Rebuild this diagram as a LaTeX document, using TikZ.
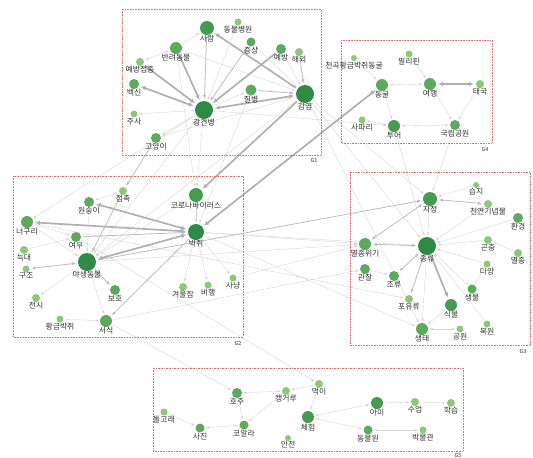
\documentclass[tikz,border=0pt]{standalone}
\usepackage{fontspec}
\setmainfont{Noto Sans CJK KR}
\usetikzlibrary{arrows.meta,backgrounds}
\definecolor{gdark}{RGB}{46,138,68}
\definecolor{gmd}{RGB}{70,155,80}
\definecolor{gmid}{RGB}{92,170,92}
\definecolor{glight}{RGB}{140,200,120}
\definecolor{boxred}{RGB}{225,110,110}
\definecolor{txt}{RGB}{50,50,50}
\tikzset{
  gdot/.style={circle,inner sep=0pt,outer sep=0pt,draw=none},
  lbl/.style={font=\fontsize{7.8}{8}\selectfont,text=txt,inner sep=0.3pt},
  glbl/.style={font=\fontsize{5.5}{6}\selectfont,text=txt,inner sep=0pt},
  boxst/.style={draw=boxred,densely dotted,line width=0.6pt},
  ethin/.style={draw=gray!36,line width=0.35pt,shorten >=1.5pt,shorten <=1.5pt,-{Latex[length=3pt,width=2.2pt]}},
  ethinb/.style={ethin,{Latex[length=3pt,width=2.2pt]}-{Latex[length=3pt,width=2.2pt]}},
  emed/.style={draw=gray!52,line width=0.8pt,shorten >=2pt,shorten <=2pt,-{Latex[length=4pt,width=3.4pt]}},
  emedb/.style={emed,{Latex[length=4pt,width=3.4pt]}-{Latex[length=4pt,width=3.4pt]}},
  ethick/.style={draw=gray!62,line width=1.7pt,shorten >=2pt,shorten <=2pt,-{Latex[length=5pt,width=4.6pt]}},
  ethickb/.style={ethick,{Latex[length=5pt,width=4.6pt]}-{Latex[length=5pt,width=4.6pt]}},
}
\newcommand\gn[6]{\node[gdot,minimum size=#4*2pt,fill=#5,label={[lbl]below:#6}] (#1) at (#2,#3) {};}
\begin{document}
\begin{tikzpicture}[x=1pt,y=-1pt]
\useasboundingbox (0,0) rectangle (533,458);
% boxes
\draw[boxst] (122,9) rectangle (321,155);
\draw[boxst] (341,40) rectangle (492,143);
\draw[boxst] (13,176) rectangle (243,337);
\draw[boxst] (350,172) rectangle (530,345);
\draw[boxst] (153,368) rectangle (463,451);
\node[glbl] (lg1) at (314,160) {G1};
\node[glbl] (lg4) at (485,149) {G4};
\node[glbl] (lg2) at (238,343) {G2};
\node[glbl] (lg3) at (523,351) {G3};
\node[glbl] (lg5) at (458,455) {G5};
% G1
\gn{saram}{207}{28}{7}{gmd}{사람}
\gn{byungwon}{238}{22}{3.5}{glight}{동물병원}
\gn{jeungsang}{251}{42}{4.5}{gmid}{증상}
\gn{banryeo}{176}{48}{6}{gmid}{반려동물}
\gn{yebang}{281}{49}{5}{gmid}{예방}
\gn{haeoe}{299}{52}{4}{glight}{해외}
\gn{jeopjong}{140}{62}{4}{glight}{예방접종}
\gn{baeksin}{134}{84}{5}{gmid}{백신}
\gn{jusa}{134}{114}{3.5}{glight}{주사}
\gn{goyang}{156}{138}{5}{gmid}{고양이}
\gn{gwang}{204}{110}{9}{gdark}{광견병}
\gn{jilbyeong}{251}{90}{5.5}{gmid}{질병}
\gn{gamyeom}{305}{94}{9}{gdark}{감염}
% G4
\gn{cheongok}{354}{58}{3}{glight}{천곡황금박쥐동굴}
\gn{phil}{409}{54}{3.5}{glight}{필리핀}
\gn{donggul}{382}{85}{6}{gmid}{동굴}
\gn{yeohaeng}{430}{84}{6}{gmid}{여행}
\gn{taeguk}{480}{84}{4}{glight}{태국}
\gn{safari}{362}{120}{3.5}{glight}{사파리}
\gn{tour}{394}{126}{6}{gmd}{투어}
\gn{gukrip}{455}{125}{5}{gmid}{국립공원}
% G2
\gn{jeopchok}{123}{191}{4}{glight}{접촉}
\gn{wonsung}{89}{202}{5}{gmid}{원숭이}
\gn{neoguri}{27}{222}{6}{gmid}{너구리}
\gn{yeou}{76}{237}{5}{gmid}{여우}
\gn{neukdae}{24}{250}{4}{glight}{늑대}
\gn{gujo}{26}{269}{3.5}{glight}{구조}
\gn{yasaeng}{87}{262}{9}{gdark}{야생동물}
\gn{boho}{115}{290}{5}{gmid}{보호}
\gn{jeonsi}{36}{298}{4}{glight}{전시}
\gn{hwanggeum}{60}{319}{3.5}{glight}{황금박쥐}
\gn{seosik}{106}{321}{6}{gmid}{서식}
\gn{corona}{196}{195}{7}{gmd}{코로나바이러스}
\gn{bakjwi}{196}{232}{8}{gdark}{박쥐}
\gn{gyeoul}{183}{287}{4}{glight}{겨울잠}
\gn{bihaeng}{208}{285}{3.5}{glight}{비행}
\gn{sanyang}{233}{278}{3.5}{glight}{사냥}
% G3
\gn{seupji}{476}{185}{3}{glight}{습지}
\gn{jijeong}{430}{199}{7}{gmd}{지정}
\gn{cheonyeon}{488}{204}{4}{glight}{천연기념물}
\gn{hwangyeong}{518}{218}{5}{gmid}{환경}
\gn{myeoljongwi}{365}{244}{6}{gmid}{멸종위기}
\gn{jongryu}{427}{246}{9}{gdark}{종류}
\gn{gonchung}{488}{240}{4}{glight}{곤충}
\gn{myeoljong}{518}{253}{4}{glight}{멸종}
\gn{gwanchal}{365}{269}{5}{gmid}{관찰}
\gn{joryu}{394}{276}{5}{gmid}{조류}
\gn{dayang}{487}{264}{3.5}{glight}{다양}
\gn{poyuryu}{409}{299}{4}{glight}{포유류}
\gn{saengmul}{472}{289}{4.5}{gmid}{생물}
\gn{sikmul}{451}{305}{6}{gmd}{식물}
\gn{saengtae}{422}{329}{6}{gmid}{생태}
\gn{gongwon}{460}{329}{3.5}{glight}{공원}
\gn{bokwon}{487}{324}{3.5}{glight}{복원}
% G5
\gn{hoju}{237}{393}{5}{gmid}{호주}
\gn{kangaroo}{286}{391}{4}{glight}{캥거루}
\gn{meogi}{319}{384}{4}{glight}{먹이}
\gn{dolgorae}{164}{412}{3.5}{glight}{돌고래}
\gn{sajin}{200}{428}{4.5}{gmid}{사진}
\gn{koala}{244}{425}{4.5}{gmid}{코알라}
\gn{cheheom}{308}{417}{6}{gmd}{체험}
\gn{anjeon}{288}{438}{3}{glight}{안전}
\gn{ai}{377}{403}{6}{gmd}{아이}
\gn{sueop}{415}{402}{4}{glight}{수업}
\gn{hakseup}{451}{403}{4}{glight}{학습}
\gn{dongmulwon}{368}{430}{4.5}{gmid}{동물원}
\gn{bakmulgwan}{423}{430}{3.5}{glight}{박물관}
\begin{pgfonlayer}{background}
% long thin cross lines
\draw[ethin] (gwang) -- (neoguri);
\draw[ethin] (gwang) -- (corona);
\draw[ethin] (gwang) -- (yasaeng);
\draw[ethin] (jilbyeong) -- (bakjwi);
\draw[ethin] (gamyeom) -- (yasaeng);
\draw[ethin] (gamyeom) -- (jongryu);
\draw[ethin] (gamyeom) -- (jijeong);
\draw[ethin] (gamyeom) -- (saengtae);
\draw[ethin] (banryeo) -- (corona);
\draw[ethin] (tour) -- (jongryu);
\draw[ethin] (gukrip) -- (jijeong);
\draw[ethin] (bakjwi) -- (jongryu);
\draw[ethin] (bakjwi) -- (saengtae);
\draw[ethin] (bakjwi) -- (myeoljongwi);
\draw[ethin] (yasaeng) -- (myeoljongwi);
\draw[ethin] (sanyang) -- (myeoljongwi);
\draw[ethin] (seosik) -- (gwanchal);
\draw[ethin] (seosik) -- (hoju);
\draw[ethin] (yeou) -- (meogi);
\draw[ethin] (neoguri) -- (poyuryu);
\draw[ethin] (gwang) -- (tour);
\draw[emed] (yasaeng) -- (jijeong);
\draw[emed] (goyang) -- (jeopchok);
% G1
\draw[ethick] (banryeo) -- (gwang);
\draw[ethick] (jeopjong) -- (gwang);
\draw[ethickb] (baeksin) -- (gwang);
\draw[ethick] (yebang) -- (gwang);
\draw[ethick] (gamyeom) -- (saram);
\draw[ethickb] (gwang) -- (gamyeom);
\draw[emed] (jilbyeong) -- (gamyeom);
\draw[emed] (saram) -- (gwang);
\draw[emed] (jeungsang) -- (gwang);
\draw[emed] (haeoe) -- (gamyeom);
\draw[ethin] (byungwon) -- (gwang);
\draw[ethin] (banryeo) -- (gamyeom);
\draw[ethin] (gwang) -- (jilbyeong);
\draw[ethin] (gwang) -- (jusa);
\draw[ethin] (gwang) -- (goyang);
\draw[ethinb] (banryeo) -- (jeopjong);
\draw[ethin] (banryeo) -- (saram);
\draw[ethin] (gamyeom) -- (goyang);
\draw[ethin] (gamyeom) -- (jeungsang);
\draw[ethin] (yebang) -- (gamyeom);
% cross thick
\draw[ethick] (gamyeom) -- (corona);
\draw[ethickb] (bakjwi) -- (donggul);
% G2
\draw[ethickb] (neoguri) -- (bakjwi);
\draw[ethickb] (wonsung) -- (bakjwi);
\draw[ethickb] (yasaeng) -- (bakjwi);
\draw[emed] (yeou) -- (bakjwi);
\draw[emed] (jeopchok) -- (yasaeng);
\draw[emedb] (gujo) -- (yasaeng);
\draw[emed] (yasaeng) -- (boho);
\draw[emed] (bakjwi) -- (seosik);
\draw[ethin] (hwanggeum) -- (seosik);
\draw[ethin] (yasaeng) -- (seosik);
\draw[ethin] (bakjwi) -- (gyeoul);
\draw[ethin] (bakjwi) -- (bihaeng);
\draw[ethin] (bakjwi) -- (sanyang);
\draw[ethin] (corona) -- (bakjwi);
\draw[ethinb] (jeopchok) -- (wonsung);
\draw[ethin] (neoguri) -- (yeou);
\draw[ethin] (neoguri) -- (yasaeng);
\draw[ethin] (neukdae) -- (yeou);
\draw[ethin] (yasaeng) -- (jeonsi);
\draw[ethin] (wonsung) -- (yasaeng);
\draw[ethin] (corona) -- (yasaeng);
% G3
\draw[emedb] (jijeong) -- (myeoljongwi);
\draw[emedb] (myeoljongwi) -- (jongryu);
\draw[emedb] (jongryu) -- (joryu);
\draw[ethickb] (jongryu) -- (sikmul);
\draw[emed] (jongryu) -- (poyuryu);
\draw[emedb] (jijeong) -- (cheonyeon);
\draw[ethin] (seupji) -- (jijeong);
\draw[ethin] (jijeong) -- (jongryu);
\draw[ethin] (hwangyeong) -- (jongryu);
\draw[ethin] (gonchung) -- (jongryu);
\draw[ethin] (myeoljong) -- (gonchung);
\draw[ethin] (dayang) -- (jongryu);
\draw[ethin] (saengmul) -- (jongryu);
\draw[ethin] (jongryu) -- (saengtae);
\draw[ethin] (bokwon) -- (jongryu);
\draw[ethinb] (saengtae) -- (gongwon);
\draw[ethin] (sikmul) -- (saengtae);
\draw[ethin] (gwanchal) -- (joryu);
\draw[ethin] (cheonyeon) -- (jongryu);
\draw[ethin] (saengmul) -- (dayang);
% G4
\draw[ethin] (cheongok) -- (donggul);
\draw[ethinb] (donggul) -- (yeohaeng);
\draw[ethickb] (yeohaeng) -- (taeguk);
\draw[ethin] (phil) -- (yeohaeng);
\draw[ethin] (yeohaeng) -- (gukrip);
\draw[ethin] (taeguk) -- (gukrip);
\draw[ethinb] (tour) -- (gukrip);
\draw[ethinb] (safari) -- (tour);
\draw[ethin] (donggul) -- (tour);
% G5
\draw[ethinb] (hoju) -- (kangaroo);
\draw[ethin] (meogi) -- (kangaroo);
\draw[ethin] (kangaroo) -- (koala);
\draw[ethin] (hoju) -- (koala);
\draw[ethinb] (sajin) -- (koala);
\draw[ethin] (dolgorae) -- (sajin);
\draw[ethinb] (cheheom) -- (ai);
\draw[ethin] (ai) -- (sueop);
\draw[ethin] (sueop) -- (hakseup);
\draw[ethinb] (dongmulwon) -- (bakmulgwan);
\draw[ethinb] (cheheom) -- (dongmulwon);
\draw[ethin] (meogi) -- (cheheom);
\end{pgfonlayer}
\end{tikzpicture}
\end{document}
